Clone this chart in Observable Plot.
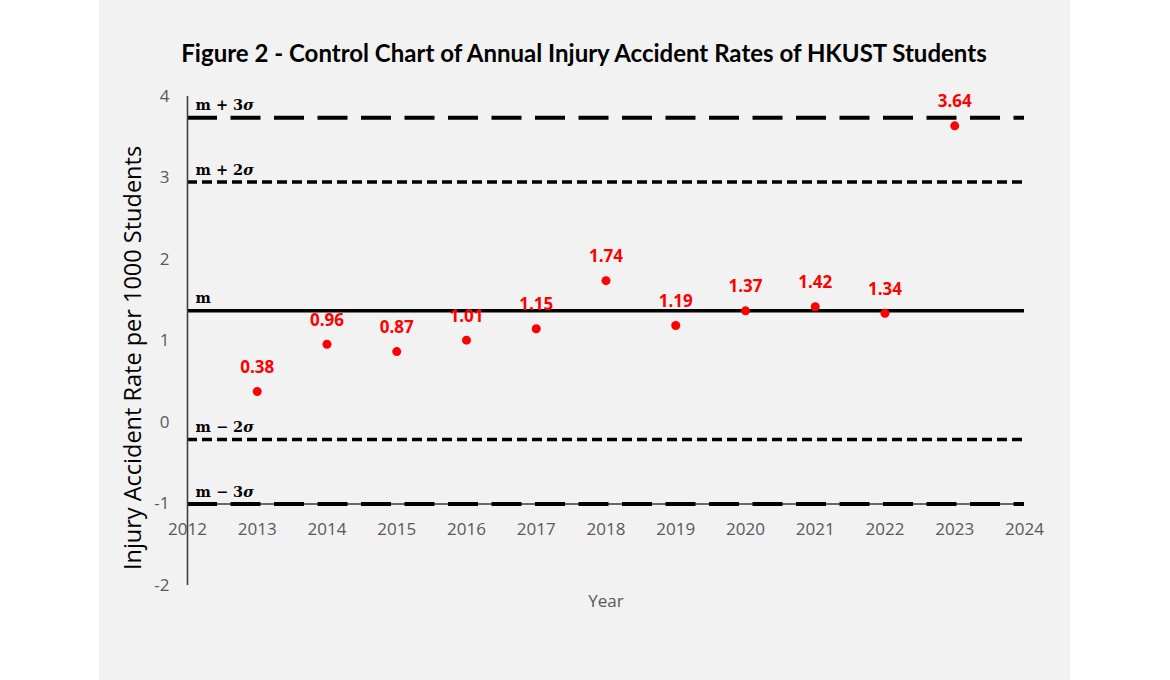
<!DOCTYPE html>
<html>
<head>
<meta charset="utf-8">
<script src="https://cdn.jsdelivr.net/npm/d3@7"></script>
<script src="https://cdn.jsdelivr.net/npm/@observablehq/plot@0.6"></script>
<style>
  html, body { margin: 0; padding: 0; background: #ffffff; }
  #wrap { position: absolute; left: 99px; top: 0; width: 971px; height: 680px; background: #f2f2f2; }
  #wrap svg { background: transparent; display: block; }
</style>
</head>
<body>
<div id="wrap"></div>
<script>
// ---- data ----
const years = [2013, 2014, 2015, 2016, 2017, 2018, 2019, 2020, 2021, 2022, 2023];
const rates = [0.38, 0.96, 0.87, 1.01, 1.15, 1.74, 1.19, 1.37, 1.42, 1.34, 3.64];
const limitNames = ["m + 3σ", "m + 2σ", "m", "m − 2σ", "m − 3σ"];
const limitValues = [3.74, 2.95, 1.37, -0.21, -1.00];
const xTicks = [2012, 2013, 2014, 2015, 2016, 2017, 2018, 2019, 2020, 2021, 2022, 2023, 2024];
const yTicks = [-2, -1, 0, 1, 2, 3, 4];
const title = "Figure 2 - Control Chart of Annual Injury Accident Rates of HKUST Students";
const yTitle = "Injury Accident Rate per 1000 Students";
const xTitle = "Year";

const points = years.map((y, i) => ({year: y, rate: rates[i]}));
const limits = limitNames.map((n, i) => ({name: n, value: limitValues[i]}));
const sigma3 = limits.filter(d => d.name.includes("3"));
const sigma2 = limits.filter(d => d.name.includes("2"));
const mean = limits.filter(d => d.name === "m");

const font = "'Open Sans', 'Noto Sans', sans-serif";
const gray = "#595959";

const chart = Plot.plot({
  width: 971,
  height: 680,
  marginLeft: 88,
  marginRight: 46,
  marginTop: 96,
  marginBottom: 95,
  style: {fontFamily: font, background: "transparent"},
  x: {domain: [2012, 2024]},
  y: {domain: [-2, 4]},
  marks: [
    Plot.axisY({ticks: yTicks, tickSize: 0, tickPadding: 18, tickFormat: d => String(d),
      fontSize: 17, fill: gray, label: null}),
    Plot.axisX({ticks: [], label: null, tickSize: 0}),
    Plot.text(xTicks, {x: d => d, y: () => -1, dy: 26, text: d => String(d),
      fontSize: 17, fill: gray}),
    // axis lines
    Plot.ruleY([-1], {x1: 2012, x2: 2024, stroke: "#3a3a3a", strokeWidth: 1.5}),
    // control lines
    Plot.ruleY(sigma3, {y: "value", x1: 2012, x2: 2024, stroke: "black", strokeWidth: 4,
      strokeDasharray: "30,13.5"}),
    Plot.ruleY(sigma2, {y: "value", x1: 2012, x2: 2024, stroke: "black", strokeWidth: 3.5,
      strokeDasharray: "10,5"}),
    Plot.ruleY(mean, {y: "value", x1: 2012, x2: 2024, stroke: "black", strokeWidth: 3.5}),
    Plot.ruleX([2012], {y1: -2, y2: 4, stroke: "#404040", strokeWidth: 1.6}),
    Plot.text(limits, {x: () => 2012, y: "value", text: "name", dx: 8, dy: -12,
      textAnchor: "start", fontFamily: "'DejaVu Serif', serif", fontWeight: 700,
      fontSize: 14.5, fill: "black"}),
    // data
    Plot.dot(points, {x: "year", y: "rate", r: 4.5, fill: "#ff0000", stroke: "none"}),
    Plot.text(points, {x: "year", y: "rate", text: d => d.rate.toFixed(2), dy: -24,
      fill: "#ff0000", fontWeight: 700, fontSize: 17}),
    // titles
    Plot.text([title], {frameAnchor: "top", dx: -22, dy: -42, fontFamily: "Lato, sans-serif",
      fontWeight: 700, fontSize: 24, fill: "black", lineAnchor: "middle", textAnchor: "middle"}),
    Plot.text([xTitle], {frameAnchor: "bottom", dy: 16, lineAnchor: "middle",
      fontSize: 17, fill: gray}),
    Plot.text([yTitle], {frameAnchor: "left", dx: -54, dy: 17, rotate: -90,
      textAnchor: "middle", lineAnchor: "middle", fontSize: 23.5, fill: "black"})
  ]
});

// italic sigma
chart.querySelectorAll("text").forEach(t => {
  if (t.childElementCount === 0 && t.textContent.includes("σ")) {
    const s = t.textContent;
    t.textContent = s.slice(0, -1);
    const ts = document.createElementNS("http://www.w3.org/2000/svg", "tspan");
    ts.setAttribute("font-style", "italic");
    ts.textContent = "σ";
    t.appendChild(ts);
  }
});

document.getElementById("wrap").appendChild(chart);
</script>
</body>
</html>
